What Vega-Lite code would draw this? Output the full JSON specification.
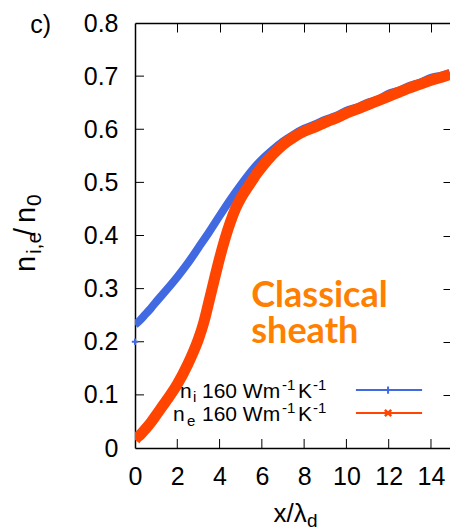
{
  "$schema": "https://vega.github.io/schema/vega-lite/v6.json",
  "width": 315,
  "height": 425,
  "autosize": {"type": "none"},
  "padding": {"left": 135, "top": 23, "right": 0, "bottom": 82},
  "config": {"view": {"stroke": null}, "font": "Liberation Sans"},
  "datasets": {
    "curves": [
      {"s": "ni", "x": 0, "y": 0.232}, {"s": "ni", "x": 0.25, "y": 0.241}, {"s": "ni", "x": 0.5, "y": 0.252}, {"s": "ni", "x": 0.75, "y": 0.263},
      {"s": "ni", "x": 1, "y": 0.275}, {"s": "ni", "x": 1.5, "y": 0.298}, {"s": "ni", "x": 2, "y": 0.322}, {"s": "ni", "x": 2.5, "y": 0.348},
      {"s": "ni", "x": 3, "y": 0.377}, {"s": "ni", "x": 3.5, "y": 0.406}, {"s": "ni", "x": 4, "y": 0.437}, {"s": "ni", "x": 4.5, "y": 0.467},
      {"s": "ni", "x": 5, "y": 0.495}, {"s": "ni", "x": 5.5, "y": 0.521}, {"s": "ni", "x": 6, "y": 0.543}, {"s": "ni", "x": 6.5, "y": 0.561},
      {"s": "ni", "x": 7, "y": 0.577}, {"s": "ni", "x": 7.5, "y": 0.59}, {"s": "ni", "x": 8, "y": 0.601}, {"s": "ni", "x": 8.5, "y": 0.609},
      {"s": "ni", "x": 9, "y": 0.618}, {"s": "ni", "x": 9.5, "y": 0.625}, {"s": "ni", "x": 10, "y": 0.635}, {"s": "ni", "x": 10.5, "y": 0.641},
      {"s": "ni", "x": 11, "y": 0.65}, {"s": "ni", "x": 11.5, "y": 0.656}, {"s": "ni", "x": 12, "y": 0.667}, {"s": "ni", "x": 12.5, "y": 0.673},
      {"s": "ni", "x": 13, "y": 0.682}, {"s": "ni", "x": 13.5, "y": 0.688}, {"s": "ni", "x": 14, "y": 0.697}, {"s": "ni", "x": 14.5, "y": 0.701},
      {"s": "ni", "x": 14.9, "y": 0.706},
      {"s": "ne", "x": 0, "y": 0.015}, {"s": "ne", "x": 0.1, "y": 0.02}, {"s": "ne", "x": 0.25, "y": 0.025}, {"s": "ne", "x": 0.5, "y": 0.036},
      {"s": "ne", "x": 0.75, "y": 0.048}, {"s": "ne", "x": 1, "y": 0.062}, {"s": "ne", "x": 1.5, "y": 0.09}, {"s": "ne", "x": 2, "y": 0.12},
      {"s": "ne", "x": 2.5, "y": 0.158}, {"s": "ne", "x": 2.75, "y": 0.18}, {"s": "ne", "x": 3, "y": 0.205}, {"s": "ne", "x": 3.25, "y": 0.236},
      {"s": "ne", "x": 3.5, "y": 0.276}, {"s": "ne", "x": 3.75, "y": 0.317}, {"s": "ne", "x": 4, "y": 0.357}, {"s": "ne", "x": 4.25, "y": 0.393},
      {"s": "ne", "x": 4.5, "y": 0.424}, {"s": "ne", "x": 4.75, "y": 0.45}, {"s": "ne", "x": 5, "y": 0.47}, {"s": "ne", "x": 5.25, "y": 0.486},
      {"s": "ne", "x": 5.5, "y": 0.501}, {"s": "ne", "x": 5.75, "y": 0.516}, {"s": "ne", "x": 6, "y": 0.529},
      {"s": "ne", "x": 6.5, "y": 0.552}, {"s": "ne", "x": 7, "y": 0.571}, {"s": "ne", "x": 7.5, "y": 0.585}, {"s": "ne", "x": 8, "y": 0.596},
      {"s": "ne", "x": 8.5, "y": 0.604}, {"s": "ne", "x": 9, "y": 0.613}, {"s": "ne", "x": 9.5, "y": 0.621}, {"s": "ne", "x": 10, "y": 0.63},
      {"s": "ne", "x": 10.5, "y": 0.638}, {"s": "ne", "x": 11, "y": 0.646}, {"s": "ne", "x": 11.5, "y": 0.654}, {"s": "ne", "x": 12, "y": 0.662},
      {"s": "ne", "x": 12.5, "y": 0.67}, {"s": "ne", "x": 13, "y": 0.678}, {"s": "ne", "x": 13.5, "y": 0.685}, {"s": "ne", "x": 14, "y": 0.692},
      {"s": "ne", "x": 14.5, "y": 0.698}, {"s": "ne", "x": 14.9, "y": 0.703}
    ],
    "xticks": [{"v": 2}, {"v": 4}, {"v": 6}, {"v": 8}, {"v": 10}, {"v": 12}, {"v": 14}],
    "yticks": [{"v": 0.1}, {"v": 0.2}, {"v": 0.3}, {"v": 0.4}, {"v": 0.5}, {"v": 0.6}, {"v": 0.7}],
    "one": [{}]
  },
  "resolve": {"axis": {"x": "independent", "y": "independent"}},
  "layer": [
    {
      "data": {"name": "curves"},
      "transform": [{"filter": "datum.s == 'ni'"}],
      "mark": {"type": "line", "color": "#4169E1", "strokeWidth": 8, "interpolate": "monotone", "clip": true},
      "encoding": {
        "x": {"field": "x", "type": "quantitative", "scale": {"domain": [0, 14.9], "nice": false, "zero": false},
          "axis": {"orient": "bottom", "values": [0, 2, 4, 6, 8, 10, 12, 14], "title": null, "grid": false, "domain": true, "domainColor": "black", "domainWidth": 1.5,
            "ticks": false, "tickSize": 0,
            "labelFontSize": 25, "labelColor": "black", "labelPadding": 16, "labelDx": 3, "labelFlush": false, "labelOverlap": false, "labelBaseline": "top"}},
        "y": {"field": "y", "type": "quantitative", "scale": {"domain": [0, 0.8], "nice": false},
          "axis": {"orient": "left", "values": [0, 0.1, 0.2, 0.3, 0.4, 0.5, 0.6, 0.7, 0.8], "title": null, "grid": false, "domain": true, "domainColor": "black", "domainWidth": 1.5,
            "labelExpr": "datum.value == 0 ? '0' : format(datum.value, '.1f')",
            "ticks": false, "tickSize": 0,
            "labelFontSize": 25, "labelColor": "black", "labelPadding": 17, "labelFlush": false, "labelOverlap": false, "labelBaseline": "middle"}}
      }
    },
    {
      "data": {"name": "curves"},
      "transform": [{"filter": "datum.s == 'ne'"}],
      "mark": {"type": "line", "color": "#FF4500", "strokeWidth": 11, "interpolate": "monotone", "clip": true},
      "encoding": {
        "x": {"field": "x", "type": "quantitative", "axis": null},
        "y": {"field": "y", "type": "quantitative", "axis": null}
      }
    },
    {
      "data": {"name": "curves"},
      "mark": {"type": "point", "opacity": 0},
      "encoding": {
        "x": {"field": "x", "type": "quantitative",
          "axis": {"orient": "bottom", "offset": -425, "values": [2, 4, 6, 8, 10, 12, 14], "title": null, "grid": false, "labels": false,
            "domain": true, "domainColor": "black", "domainWidth": 1.5,
            "ticks": true, "tickColor": "black", "tickWidth": 1, "tickSize": 9}},
        "y": {"field": "y", "type": "quantitative",
          "axis": {"orient": "left", "offset": -315, "values": [0.1, 0.2, 0.3, 0.4, 0.5, 0.6, 0.7], "title": null, "grid": false, "labels": false, "domain": false,
            "ticks": true, "tickColor": "black", "tickWidth": 1, "tickSize": 7}}
      }
    },
    {
      "data": {"name": "xticks"},
      "mark": {"type": "tick", "orient": "vertical", "size": 9, "thickness": 1, "color": "black", "opacity": 1},
      "encoding": {"x": {"field": "v", "type": "quantitative", "axis": null}, "y": {"datum": 0.0085, "type": "quantitative", "axis": null}}
    },
    {
      "data": {"name": "yticks"},
      "mark": {"type": "tick", "orient": "horizontal", "size": 9, "thickness": 1, "color": "black", "opacity": 1},
      "encoding": {"y": {"field": "v", "type": "quantitative", "axis": null}, "x": {"datum": 0.213, "type": "quantitative", "axis": null}}
    },
    {
      "data": {"name": "one"},
      "mark": {"type": "point", "shape": "M-1,0L1,0M0,-1L0,1", "filled": false, "stroke": "#4169E1", "strokeWidth": 2, "size": 40, "opacity": 1},
      "encoding": {"x": {"datum": 0, "type": "quantitative", "axis": null}, "y": {"datum": 0.2, "type": "quantitative", "axis": null}}
    },
    {
      "data": {"name": "one"},
      "mark": {"type": "text", "text": "c)", "fontSize": 25, "align": "left", "baseline": "alphabetic", "color": "black"},
      "encoding": {"x": {"datum": -4.96, "type": "quantitative", "axis": null}, "y": {"datum": 0.781, "type": "quantitative", "axis": null}}
    },
    {
      "data": {"name": "one"},
      "mark": {"type": "text", "text": "n", "fontSize": 29, "angle": 270, "align": "left", "baseline": "alphabetic", "color": "black"},
      "encoding": {"x": {"datum": -4.73, "type": "quantitative", "axis": null}, "y": {"datum": 0.3313, "type": "quantitative", "axis": null}}
    },
    {
      "data": {"name": "one"},
      "mark": {"type": "text", "text": "i,e", "fontSize": 21, "angle": 270, "align": "left", "baseline": "alphabetic", "color": "black"},
      "encoding": {"x": {"datum": -4.447, "type": "quantitative", "axis": null}, "y": {"datum": 0.365, "type": "quantitative", "axis": null}}
    },
    {
      "data": {"name": "one"},
      "mark": {"type": "text", "text": "/", "fontSize": 29, "angle": 270, "align": "left", "baseline": "alphabetic", "color": "black"},
      "encoding": {"x": {"datum": -4.73, "type": "quantitative", "axis": null}, "y": {"datum": 0.399, "type": "quantitative", "axis": null}}
    },
    {
      "data": {"name": "one"},
      "mark": {"type": "text", "text": "n", "fontSize": 29, "angle": 270, "align": "left", "baseline": "alphabetic", "color": "black"},
      "encoding": {"x": {"datum": -4.73, "type": "quantitative", "axis": null}, "y": {"datum": 0.4235, "type": "quantitative", "axis": null}}
    },
    {
      "data": {"name": "one"},
      "mark": {"type": "text", "text": "0", "fontSize": 21, "angle": 270, "align": "left", "baseline": "alphabetic", "color": "black"},
      "encoding": {"x": {"datum": -4.447, "type": "quantitative", "axis": null}, "y": {"datum": 0.4555, "type": "quantitative", "axis": null}}
    },
    {
      "data": {"name": "one"},
      "mark": {"type": "text", "text": "x/λ", "fontSize": 26, "align": "right", "baseline": "alphabetic", "color": "black"},
      "encoding": {"x": {"datum": 8.12, "type": "quantitative", "axis": null}, "y": {"datum": -0.139, "type": "quantitative", "axis": null}}
    },
    {
      "data": {"name": "one"},
      "mark": {"type": "text", "text": "d", "fontSize": 19, "align": "left", "baseline": "alphabetic", "color": "black"},
      "encoding": {"x": {"datum": 8.14, "type": "quantitative", "axis": null}, "y": {"datum": -0.149, "type": "quantitative", "axis": null}}
    },
    {
      "data": {"name": "one"},
      "mark": {"type": "text", "text": "Classical", "font": "Lato", "fontWeight": "bold", "fontSize": 36, "align": "left", "baseline": "alphabetic", "color": "#FF8000"},
      "encoding": {"x": {"datum": 5.5, "type": "quantitative", "axis": null}, "y": {"datum": 0.2654, "type": "quantitative", "axis": null}}
    },
    {
      "data": {"name": "one"},
      "mark": {"type": "text", "text": "sheath", "font": "Lato", "fontWeight": "bold", "fontSize": 36, "align": "left", "baseline": "alphabetic", "color": "#FF8000"},
      "encoding": {"x": {"datum": 5.5, "type": "quantitative", "axis": null}, "y": {"datum": 0.1976, "type": "quantitative", "axis": null}}
    },
    {
      "data": {"name": "one"},
      "mark": {"type": "text", "text": "n", "fontSize": 21, "align": "left", "baseline": "alphabetic", "color": "black"},
      "encoding": {"x": {"datum": 2.129, "type": "quantitative", "axis": null}, "y": {"datum": 0.0941, "type": "quantitative", "axis": null}}
    },
    {
      "data": {"name": "one"},
      "mark": {"type": "text", "text": "i", "fontSize": 15, "align": "left", "baseline": "alphabetic", "color": "black"},
      "encoding": {"x": {"datum": 2.744, "type": "quantitative", "axis": null}, "y": {"datum": 0.0866, "type": "quantitative", "axis": null}}
    },
    {
      "data": {"name": "one"},
      "mark": {"type": "text", "text": "n", "fontSize": 21, "align": "left", "baseline": "alphabetic", "color": "black"},
      "encoding": {"x": {"datum": 1.797, "type": "quantitative", "axis": null}, "y": {"datum": 0.0508, "type": "quantitative", "axis": null}}
    },
    {
      "data": {"name": "one"},
      "mark": {"type": "text", "text": "e", "fontSize": 15, "align": "left", "baseline": "alphabetic", "color": "black"},
      "encoding": {"x": {"datum": 2.46, "type": "quantitative", "axis": null}, "y": {"datum": 0.0414, "type": "quantitative", "axis": null}}
    },
    {
      "data": {"name": "one"},
      "mark": {"type": "text", "text": "160 Wm", "fontSize": 21, "align": "left", "baseline": "alphabetic", "color": "black"},
      "encoding": {"x": {"datum": 3.169, "type": "quantitative", "axis": null}, "y": {"datum": 0.0941, "type": "quantitative", "axis": null}}
    },
    {
      "data": {"name": "one"},
      "mark": {"type": "text", "text": "160 Wm", "fontSize": 21, "align": "left", "baseline": "alphabetic", "color": "black"},
      "encoding": {"x": {"datum": 3.169, "type": "quantitative", "axis": null}, "y": {"datum": 0.0508, "type": "quantitative", "axis": null}}
    },
    {
      "data": {"name": "one"},
      "mark": {"type": "text", "text": "-1", "fontSize": 15, "align": "left", "baseline": "alphabetic", "color": "black"},
      "encoding": {"x": {"datum": 6.95, "type": "quantitative", "axis": null}, "y": {"datum": 0.109, "type": "quantitative", "axis": null}}
    },
    {
      "data": {"name": "one"},
      "mark": {"type": "text", "text": "-1", "fontSize": 15, "align": "left", "baseline": "alphabetic", "color": "black"},
      "encoding": {"x": {"datum": 6.95, "type": "quantitative", "axis": null}, "y": {"datum": 0.0659, "type": "quantitative", "axis": null}}
    },
    {
      "data": {"name": "one"},
      "mark": {"type": "text", "text": "K", "fontSize": 21, "align": "left", "baseline": "alphabetic", "color": "black"},
      "encoding": {"x": {"datum": 7.71, "type": "quantitative", "axis": null}, "y": {"datum": 0.0941, "type": "quantitative", "axis": null}}
    },
    {
      "data": {"name": "one"},
      "mark": {"type": "text", "text": "K", "fontSize": 21, "align": "left", "baseline": "alphabetic", "color": "black"},
      "encoding": {"x": {"datum": 7.71, "type": "quantitative", "axis": null}, "y": {"datum": 0.0508, "type": "quantitative", "axis": null}}
    },
    {
      "data": {"name": "one"},
      "mark": {"type": "text", "text": "-1", "fontSize": 15, "align": "left", "baseline": "alphabetic", "color": "black"},
      "encoding": {"x": {"datum": 8.42, "type": "quantitative", "axis": null}, "y": {"datum": 0.109, "type": "quantitative", "axis": null}}
    },
    {
      "data": {"name": "one"},
      "mark": {"type": "text", "text": "-1", "fontSize": 15, "align": "left", "baseline": "alphabetic", "color": "black"},
      "encoding": {"x": {"datum": 8.42, "type": "quantitative", "axis": null}, "y": {"datum": 0.0659, "type": "quantitative", "axis": null}}
    },
    {
      "data": {"name": "one"},
      "mark": {"type": "rule", "color": "#4169E1", "strokeWidth": 2},
      "encoding": {"x": {"datum": 10.45, "type": "quantitative", "axis": null}, "x2": {"datum": 13.58}, "y": {"datum": 0.109, "type": "quantitative", "axis": null}}
    },
    {
      "data": {"name": "one"},
      "mark": {"type": "rule", "color": "#FF4500", "strokeWidth": 2},
      "encoding": {"x": {"datum": 10.45, "type": "quantitative", "axis": null}, "x2": {"datum": 13.58}, "y": {"datum": 0.066, "type": "quantitative", "axis": null}}
    },
    {
      "data": {"name": "one"},
      "mark": {"type": "point", "shape": "M-1,0L1,0M0,-1L0,1", "filled": false, "stroke": "#4169E1", "strokeWidth": 2, "size": 50, "opacity": 1},
      "encoding": {"x": {"datum": 11.97, "type": "quantitative", "axis": null}, "y": {"datum": 0.109, "type": "quantitative", "axis": null}}
    },
    {
      "data": {"name": "one"},
      "mark": {"type": "point", "shape": "M-1,-1L1,1M-1,1L1,-1", "filled": false, "stroke": "#FF4500", "strokeWidth": 2.5, "size": 40, "opacity": 1},
      "encoding": {"x": {"datum": 11.97, "type": "quantitative", "axis": null}, "y": {"datum": 0.066, "type": "quantitative", "axis": null}}
    }
  ]
}
